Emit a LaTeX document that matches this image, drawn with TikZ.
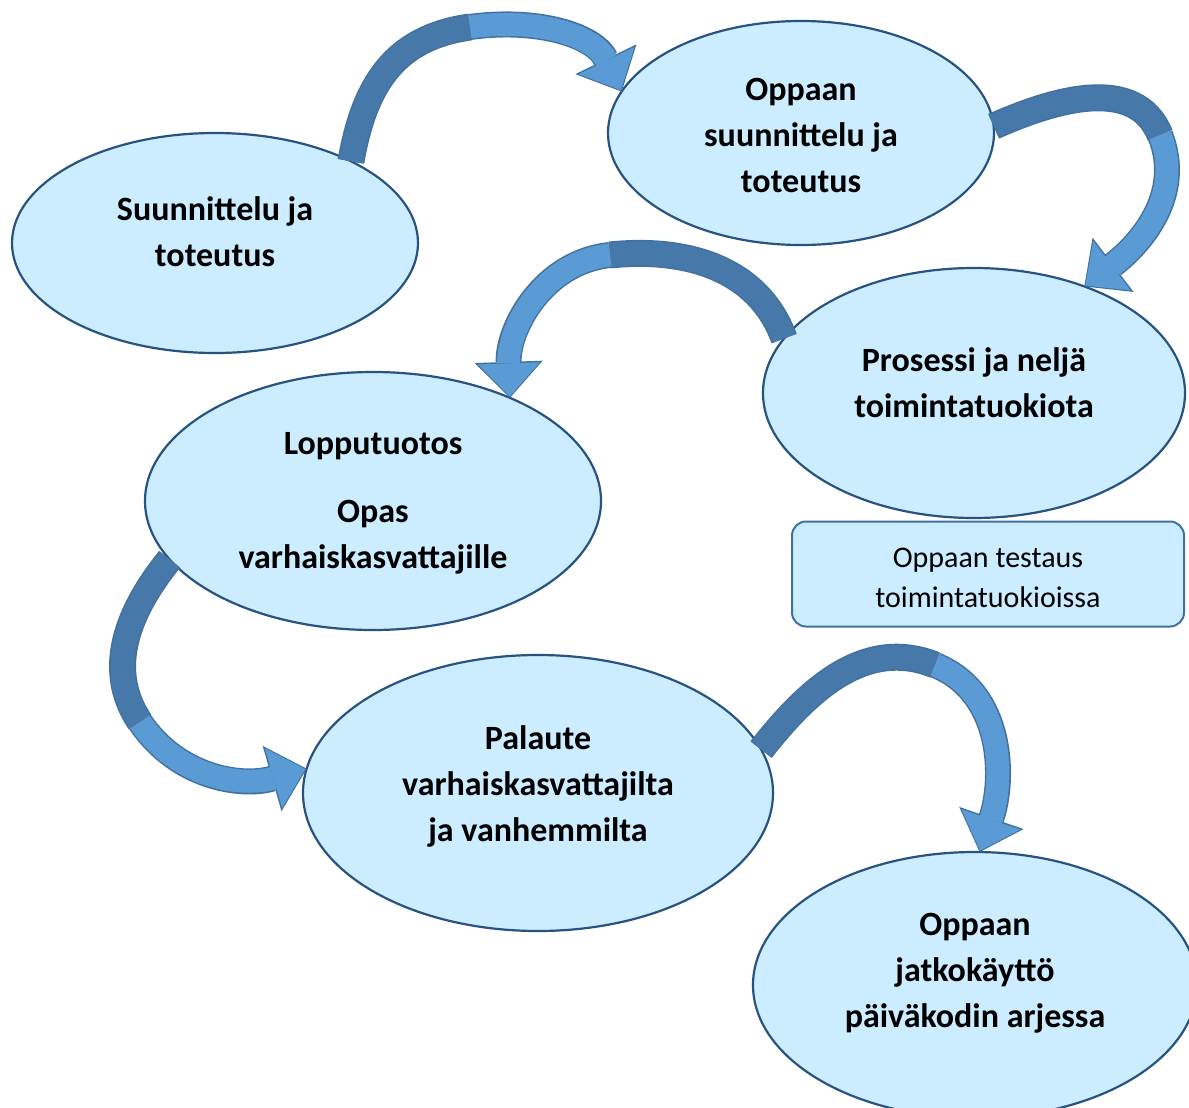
\documentclass[tikz,border=0pt]{standalone}
\usepackage{fontspec}
\setmainfont{Carlito}
\usetikzlibrary{arrows.meta, shapes.geometric, calc}

\definecolor{ovalfill}{RGB}{204,236,255}
\definecolor{ovalline}{RGB}{40,82,128}
\definecolor{arrowdark}{RGB}{70,121,170}
\definecolor{arrowlight}{RGB}{91,155,213}
\definecolor{arrowline}{RGB}{65,113,156}

\begin{document}
\begin{tikzpicture}[
    x=1pt, y=-1pt,
    oval/.style={ellipse, draw=ovalline, line width=2.2pt, fill=ovalfill, inner sep=0pt, outer sep=0pt},
    boldtext/.style={align=center, font=\fontsize{34}{46}\selectfont\bfseries},
    plaintext/.style={align=center, font=\fontsize{30}{40}\selectfont},
    notebox/.style={rectangle, rounded corners=14pt, draw=arrowline, line width=2pt, fill=ovalfill, minimum width=392pt, minimum height=105pt},
    darkpart/.style={preaction={draw=arrowline, line width=27pt}, draw=arrowdark, line width=24pt},
    lightpart/.style={preaction={draw=arrowline, line width=26pt, shorten >=0pt, -{Triangle[length=36pt, width=68pt, line width=0pt]}},
      draw=arrowlight, line width=23pt, shorten >=1.5pt, -{Triangle[length=33pt, width=62pt, line width=0pt]}},
  ]
  \useasboundingbox (0,0) rectangle (1189,1108);

  % Ovals
  \node[oval, minimum width=406pt, minimum height=220pt] (e1) at (215,243) {};
  \node[oval, minimum width=386pt, minimum height=224pt] (e2) at (801,133) {};
  \node[oval, minimum width=422pt, minimum height=250pt] (e3) at (974,393) {};
  \node[oval, minimum width=456pt, minimum height=258pt] (e4) at (373,501) {};
  \node[oval, minimum width=470pt, minimum height=276pt] (e5) at (538,793) {};
  \node[oval, minimum width=444pt, minimum height=266pt] (e6) at (975,985) {};

  % Texts
  \node[boldtext] (t1) at ($(e1)+(0,-11)$) {Suunnittelu ja\\toteutus};
  \node[boldtext] (t2) at ($(e2)+(0,2)$) {Oppaan\\suunnittelu ja\\toteutus};
  \node[boldtext] (t3) at ($(e3)+(0,-10)$) {Prosessi ja neljä\\toimintatuokiota};
  \node[boldtext] (t4) at ($(e4)+(0,2)$) {Lopputuotos\\[22pt]Opas\\varhaiskasvattajille};
  \node[boldtext] (t5) at ($(e5)+(0,-7)$) {Palaute\\varhaiskasvattajilta\\ja vanhemmilta};
  \node[boldtext] (t6) at ($(e6)+(0,-12)$) {Oppaan\\jatkokäyttö\\päiväkodin arjessa};

  % Testing box
  \node[notebox] (test) at (988,574) {};
  \node[plaintext] (testtext) at ($(test)+(0,4)$) {Oppaan testaus\\toimintatuokioissa};

  % Arrows
  \coordinate (m1) at (470,27);
  \draw[darkpart] (e1.31) to[out=80, in=188, looseness=1.1] (m1);
  \draw[lightpart] (m1) to[out=8, in=116] (e2.167);

  \coordinate (m2) at (1160,135);
  \draw[darkpart] (e2.2) to[out=24, in=112] (m2);
  \draw[lightpart] (m2) to[out=-68, in=37] (e3.44);

  \coordinate (m3) at (610,255);
  \draw[darkpart] (e3.164) to[out=110, in=6] (m3);
  \draw[lightpart] (m3) to[out=186, in=92] (e4.37);

  \coordinate (m4) at (140,722);
  \draw[darkpart] (e4.196) to[out=231, in=124] (m4);
  \draw[lightpart] (m4) to[out=-56, in=196] (e5.174);

  \coordinate (m5) at (935,665);
  \draw[darkpart] (e5.11) to[out=52, in=158] (m5);
  \draw[lightpart] (m5) to[out=-22, in=71] (e6.88);

\end{tikzpicture}
\end{document}
